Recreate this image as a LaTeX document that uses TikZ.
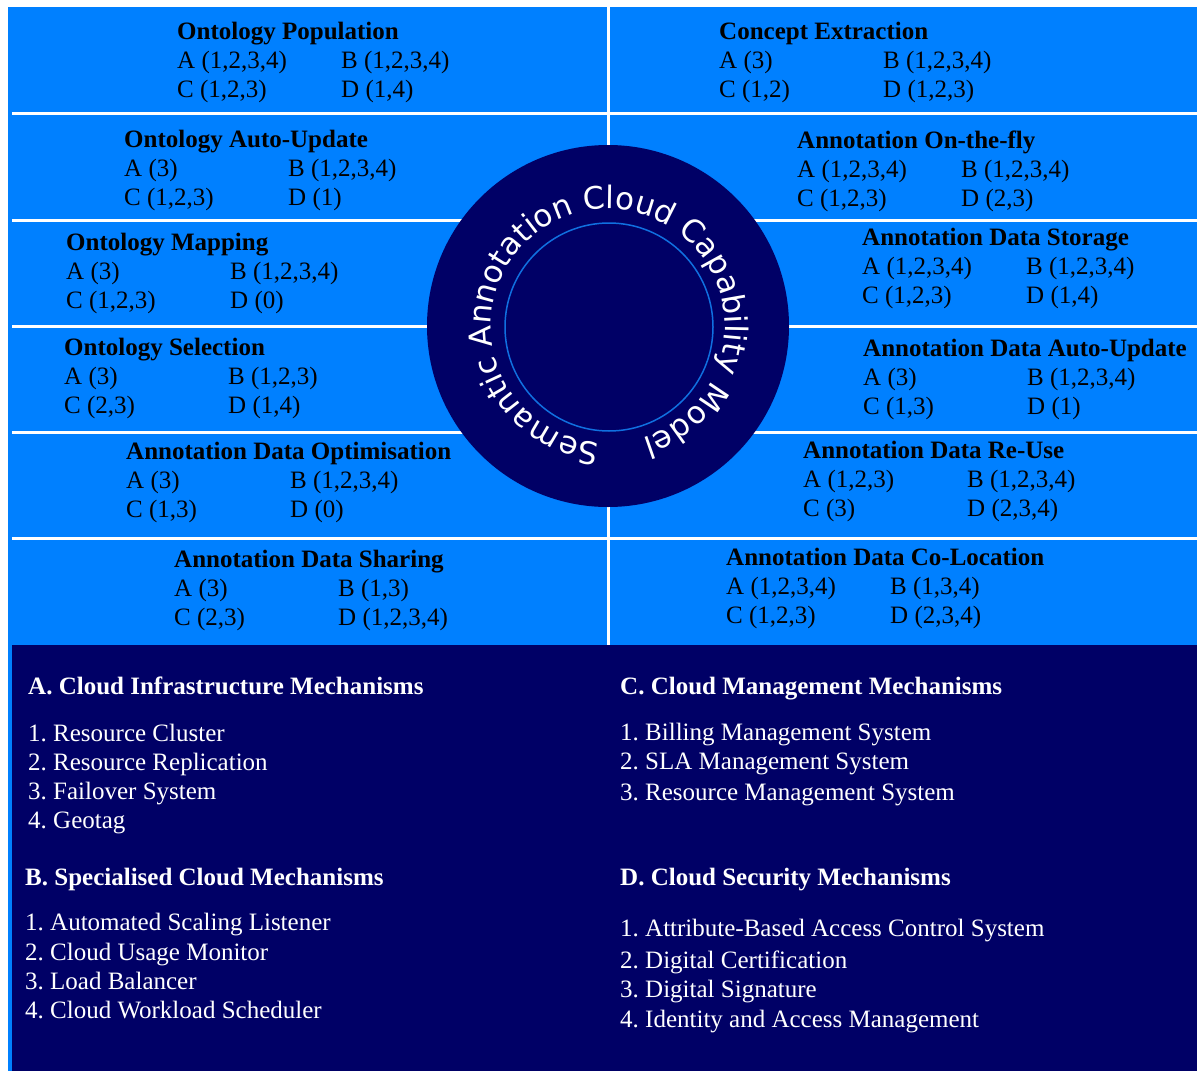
\documentclass[tikz,border=0pt]{standalone}
\usepackage{fontspec}
\setmainfont{Liberation Serif}
\newfontfamily\circfont{DejaVu Sans}
\usetikzlibrary{decorations.text}
\definecolor{brightblue}{HTML}{0080FF}
\definecolor{navy}{HTML}{000066}
\definecolor{ringline}{HTML}{1070E0}
\frenchspacing
\tikzset{
  celltitle/.style={anchor=base west, inner sep=0pt, text=black, font=\bfseries\fontsize{25}{29}\selectfont},
  cellitem/.style={anchor=base west, inner sep=0pt, text=black, font=\fontsize{25}{29}\selectfont},
  listhead/.style={anchor=base west, inner sep=0pt, text=white, font=\bfseries\fontsize{25}{29}\selectfont},
  listitem/.style={anchor=base west, inner sep=0pt, text=white, font=\fontsize{25}{29}\selectfont},
  sepline/.style={draw=white, line width=3pt},
}
\newcommand\capcell[8]{%
  \node[celltitle] (#1-t) at (#2,-#3-7) {#4};
  \node[cellitem] (#1-a) at (#2,-#3-36) {#5};
  \node[cellitem] (#1-b) at (#2+164,-#3-36) {#6};
  \node[cellitem] (#1-c) at (#2,-#3-65) {#7};
  \node[cellitem] (#1-d) at (#2+164,-#3-65) {#8};
}
\begin{document}
\begin{tikzpicture}[x=1pt,y=1pt]
\useasboundingbox (0,0) rectangle (1197,-1071);
\fill[white] (0,0) rectangle (1197,-1071);
\fill[brightblue] (8,-7) rectangle (1197,-1071);
\fill[navy] (12,-645) rectangle (1197,-1071);
% separator lines
\foreach \yy in {113,220,326,432,538} {
  \draw[sepline] (12,-\yy) -- (1197,-\yy);
}
\draw[sepline] (608,-7) -- (608,-645);
% central circle
\node[circle, fill=navy, minimum size=362pt, inner sep=0pt] (circ) at (608,-326) {};
\node[circle, draw=ringline, line width=1.5pt, minimum size=208pt, inner sep=0pt] (inner) at (609,-327) {};
\path[decorate, decoration={text along path,
    text={|\circfont\fontsize{31}{31}\selectfont|Semantic Annotation Cloud Capability Model},
    text color=white, text align=center}]
  ([shift={(276.5:117)}]circ.center) arc[start angle=276.5, end angle=-83.5, radius=117];
% cells
\capcell{pop}{177}{32}{Ontology Population}{A (1,2,3,4)}{B (1,2,3,4)}{C (1,2,3)}{D (1,4)}
\capcell{ext}{719}{32}{Concept Extraction}{A (3)}{B (1,2,3,4)}{C (1,2)}{D (1,2,3)}
\capcell{aup}{124}{140}{Ontology Auto-Update}{A (3)}{B (1,2,3,4)}{C (1,2,3)}{D (1)}
\capcell{otf}{797}{141}{Annotation On-the-fly}{A (1,2,3,4)}{B (1,2,3,4)}{C (1,2,3)}{D (2,3)}
\capcell{map}{66}{243}{Ontology Mapping}{A (3)}{B (1,2,3,4)}{C (1,2,3)}{D (0)}
\capcell{sto}{862}{238}{Annotation Data Storage}{A (1,2,3,4)}{B (1,2,3,4)}{C (1,2,3)}{D (1,4)}
\capcell{sel}{64}{348}{Ontology Selection}{A (3)}{B (1,2,3)}{C (2,3)}{D (1,4)}
\capcell{dau}{863}{349}{Annotation Data Auto-Update}{A (3)}{B (1,2,3,4)}{C (1,3)}{D (1)}
\capcell{opt}{126}{452}{Annotation Data Optimisation}{A (3)}{B (1,2,3,4)}{C (1,3)}{D (0)}
\capcell{reu}{803}{451}{Annotation Data Re-Use}{A (1,2,3)}{B (1,2,3,4)}{C (3)}{D (2,3,4)}
\capcell{sha}{174}{560}{Annotation Data Sharing}{A (3)}{B (1,3)}{C (2,3)}{D (1,2,3,4)}
\capcell{col}{726}{558}{Annotation Data Co-Location}{A (1,2,3,4)}{B (1,3,4)}{C (1,2,3)}{D (2,3,4)}
% legend
\node[listhead] (ha) at (28,-694) {A. Cloud Infrastructure Mechanisms};
\node[listitem] (a1) at (28,-741) {1. Resource Cluster};
\node[listitem] (a2) at (28,-770) {2. Resource Replication};
\node[listitem] (a3) at (28,-799) {3. Failover System};
\node[listitem] (a4) at (28,-828) {4. Geotag};
\node[listhead] (hb) at (25,-885) {B. Specialised Cloud Mechanisms};
\node[listitem] (b1) at (25,-930) {1. Automated Scaling Listener};
\node[listitem] (b2) at (25,-960) {2. Cloud Usage Monitor};
\node[listitem] (b3) at (25,-989) {3. Load Balancer};
\node[listitem] (b4) at (25,-1018) {4. Cloud Workload Scheduler};
\node[listhead] (hc) at (620,-694) {C. Cloud Management Mechanisms};
\node[listitem] (c1) at (620,-740) {1. Billing Management System};
\node[listitem] (c2) at (620,-769) {2. SLA Management System};
\node[listitem] (c3) at (620,-800) {3. Resource Management System};
\node[listhead] (hd) at (620,-885) {D. Cloud Security Mechanisms};
\node[listitem] (d1) at (620,-936) {1. Attribute-Based Access Control System};
\node[listitem] (d2) at (620,-968) {2. Digital Certification};
\node[listitem] (d3) at (620,-997) {3. Digital Signature};
\node[listitem] (d4) at (620,-1027) {4. Identity and Access Management};
\end{tikzpicture}
\end{document}
